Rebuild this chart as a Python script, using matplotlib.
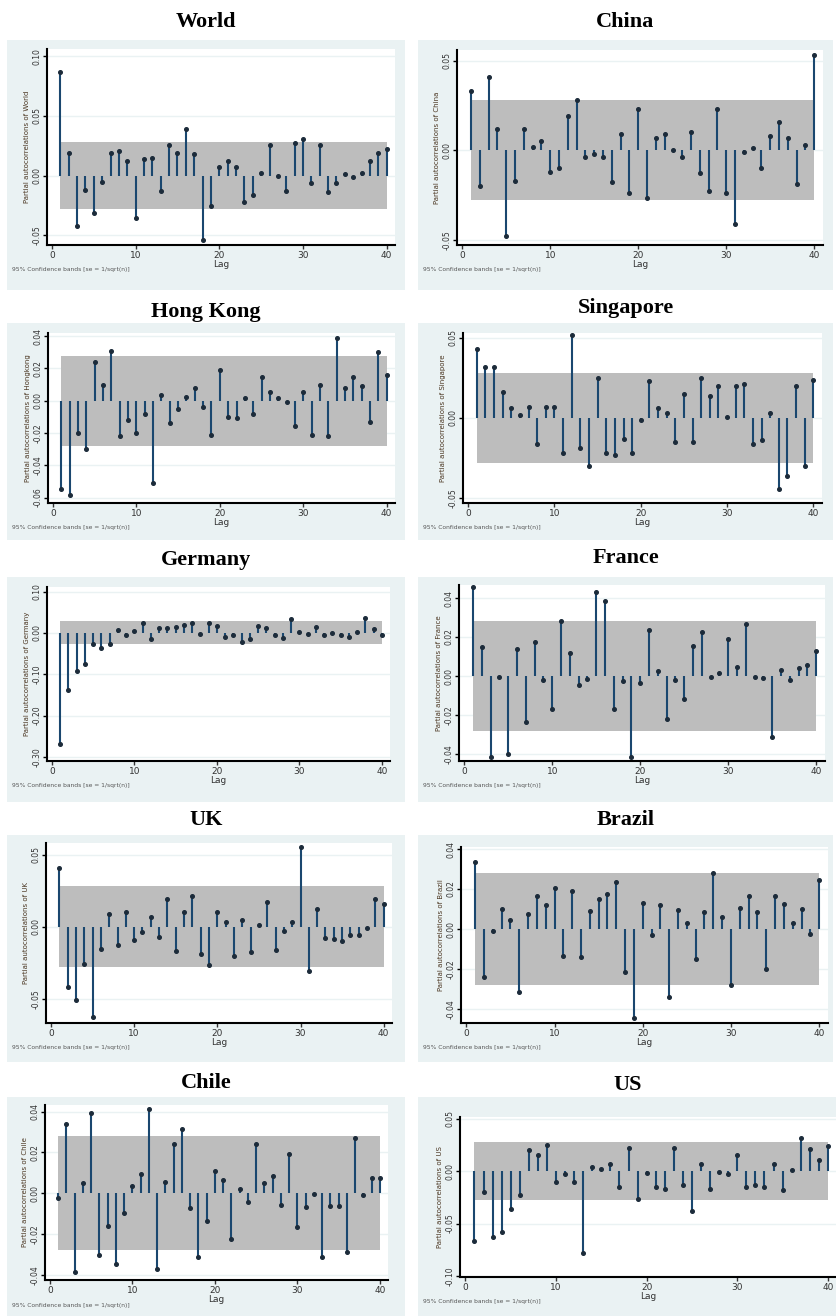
import numpy as np
import matplotlib
matplotlib.use("Agg")
import matplotlib.pyplot as plt
from matplotlib.patches import Rectangle

W, H = 837, 1316

lags = np.arange(1, 41)
ci_band = 0.028

# partial autocorrelations, lags 1..40
world = [0.087, 0.019, -0.042, -0.012, -0.031, -0.005, 0.019, 0.021, 0.012, -0.035,
         0.014, 0.015, -0.013, 0.026, 0.019, 0.039, 0.018, -0.054, -0.025, 0.007,
         0.012, 0.007, -0.022, -0.016, 0.002, 0.026, 0.000, -0.013, 0.027, 0.031,
         -0.006, 0.026, -0.014, -0.006, 0.001, -0.001, 0.002, 0.012, 0.019, 0.022]
china = [0.033, -0.020, 0.041, 0.012, -0.048, -0.017, 0.012, 0.002, 0.005, -0.012,
         -0.010, 0.019, 0.028, -0.004, -0.002, -0.004, -0.018, 0.009, -0.024, 0.023,
         -0.027, 0.007, 0.009, 0.000, -0.004, 0.010, -0.013, -0.023, 0.023, -0.024,
         -0.041, -0.001, 0.001, -0.010, 0.008, 0.016, 0.007, -0.019, 0.003, 0.053]
hong_kong = [-0.0545, -0.0587, -0.020, -0.030, 0.024, 0.010, 0.031, -0.022, -0.012, -0.020,
             -0.0085, -0.051, 0.0035, -0.014, -0.0054, 0.0025, 0.008, -0.004, -0.021, 0.019,
             -0.010, -0.011, 0.002, -0.0085, 0.015, 0.0056, 0.0015, -0.001, -0.0155, 0.0056,
             -0.021, 0.010, -0.022, 0.039, 0.008, 0.015, 0.009, -0.013, 0.0305, 0.016]
singapore = [0.043, 0.0315, 0.0315, 0.016, 0.006, 0.002, 0.007, -0.016, 0.007, 0.007,
             -0.022, 0.052, -0.019, -0.030, 0.025, -0.022, -0.023, -0.013, -0.022, -0.0015,
             0.023, 0.006, 0.003, -0.015, 0.015, -0.015, 0.025, 0.014, 0.020, 0.0006,
             0.020, 0.0215, -0.0165, -0.0135, 0.003, -0.044, -0.036, 0.020, -0.030, 0.024]
germany = [-0.270, -0.138, -0.092, -0.076, -0.026, -0.036, -0.028, 0.008, -0.004, 0.004,
           0.025, -0.015, 0.013, 0.012, 0.0145, 0.020, 0.024, -0.003, 0.025, 0.016,
           -0.010, -0.004, -0.023, -0.014, 0.017, 0.012, -0.004, -0.012, 0.033, 0.001,
           -0.002, 0.0145, -0.0056, 0.000, -0.004, -0.010, 0.0024, 0.036, 0.009, -0.004]
france = [0.0455, 0.0147, -0.0414, -0.0007, -0.0402, 0.0137, -0.0234, 0.0173, -0.002, -0.0171,
          0.0284, 0.012, -0.0046, -0.0015, 0.0432, 0.0386, -0.0171, -0.0024, -0.0417, -0.0034,
          0.0236, 0.0027, -0.022, -0.002, -0.012, 0.0156, 0.0224, -0.0007, 0.0017, 0.019,
          0.0048, 0.0267, -0.0007, -0.0012, -0.0311, 0.0031, -0.002, 0.0039, 0.0056, 0.0128]
uk = [0.0409, -0.0418, -0.0508, -0.0256, -0.0626, -0.0152, 0.009, -0.0127, 0.0104, -0.0088,
      -0.0035, 0.0067, -0.0072, 0.0196, -0.0164, 0.0104, 0.0212, -0.0187, -0.0261, 0.0102,
      0.0035, -0.0199, 0.0044, -0.0173, 0.0016, 0.0173, -0.0157, -0.003, 0.0035, 0.0554,
      -0.0307, 0.0125, -0.0076, -0.0083, -0.0099, -0.0053, -0.0053, -0.0007, 0.0196, 0.0159]
brazil = [0.0337, -0.0238, -0.0008, 0.0098, 0.0045, -0.0313, 0.0073, 0.0167, 0.012, 0.0203,
          -0.0135, 0.0192, -0.0142, 0.0092, 0.015, 0.0175, 0.0233, -0.0213, -0.0447, 0.0132,
          -0.003, 0.012, -0.0338, 0.0095, 0.0028, -0.0152, 0.0087, 0.0282, 0.0058, -0.028,
          0.0107, 0.0167, 0.0087, -0.0202, 0.0167, 0.0125, 0.0032, 0.0098, -0.0027, 0.0245]
chile = [-0.0025, 0.0339, -0.0385, 0.005, 0.0395, -0.0302, -0.0159, -0.0347, -0.0096, 0.0036,
         0.0094, 0.0413, -0.0372, 0.0053, 0.0243, 0.0314, -0.0071, -0.0311, -0.0137, 0.0107,
         0.0066, -0.0225, 0.0023, -0.0043, 0.0243, 0.005, 0.0083, -0.0058, 0.0193, -0.0167,
         -0.0068, -0.0005, -0.0314, -0.0063, -0.0063, -0.0289, 0.0273, -0.001, 0.0073, 0.0073]
us = [-0.0663, -0.0197, -0.0625, -0.0578, -0.0366, -0.0228, 0.0203, 0.0156, 0.025, -0.0103,
      -0.0025, -0.0103, -0.0781, 0.0037, 0.0016, 0.0069, -0.0156, 0.0219, -0.0266, -0.0016,
      -0.0156, -0.0172, 0.0219, -0.0134, -0.0381, 0.0069, -0.0172, -0.0009, -0.0031, 0.0156,
      -0.0147, -0.0134, -0.0147, 0.0063, -0.0181, 0.0009, 0.0313, 0.0209, 0.0103, 0.0244]

names = ["World", "China", "Hong Kong", "Singapore", "Germany",
         "France", "UK", "Brazil", "Chile", "US"]
ylabel_names = ["World", "China", "Hongkong", "Singapore", "Germany",
                "France", "UK", "Brazil", "Chile", "US"]
series = [world, china, hong_kong, singapore, germany, france, uk, brazil, chile, us]
yticks = [[-0.05, 0.0, 0.05, 0.10],
          [-0.05, 0.0, 0.05],
          [-0.06, -0.04, -0.02, 0.0, 0.02, 0.04],
          [-0.05, 0.0, 0.05],
          [-0.30, -0.20, -0.10, 0.0, 0.10],
          [-0.04, -0.02, 0.0, 0.02, 0.04],
          [-0.05, 0.0, 0.05],
          [-0.04, -0.02, 0.0, 0.02, 0.04],
          [-0.04, -0.02, 0.0, 0.02, 0.04],
          [-0.10, -0.05, 0.0, 0.05]]
ylims = [(-0.058, 0.106), (-0.053, 0.056), (-0.0634, 0.042), (-0.053, 0.053),
         (-0.31, 0.111), (-0.0436, 0.0467), (-0.0665, 0.058), (-0.047, 0.041),
         (-0.0426, 0.0433), (-0.101, 0.0516)]

# layout in pixels
# box: (x0, y0, x1, y1), axes: (left, top, right, bottom), title y
boxes = [(7, 40, 405, 290), (418, 40, 833, 290),
         (7, 323, 405, 540), (418, 323, 833, 540),
         (7, 577, 405, 802), (418, 577, 833, 802),
         (7, 835, 405, 1062), (418, 835, 833, 1062),
         (7, 1097, 405, 1316), (418, 1097, 837, 1316)]
axes_px = [(47, 49, 395, 245), (457, 50, 823, 245),
           (48, 333, 395, 503), (463, 333, 822, 503),
           (47, 587, 390, 761), (459, 585, 825, 761),
           (46, 843, 392, 1023), (461, 847, 828, 1023),
           (45, 1105, 388, 1280), (460, 1117, 837, 1277)]
title_y = [22, 22, 312, 308, 560, 558, 820, 820, 1083, 1085]

box_color = "#eaf2f3"
stem_color = "#1a476f"
band_color = "#bdbdbd"

fig = plt.figure(figsize=(W / 100, H / 100), dpi=100)
fig.patch.set_facecolor("white")

for i in range(10):
    bx0, by0, bx1, by1 = boxes[i]
    fig.patches.append(Rectangle((bx0 / W, 1 - by1 / H), (bx1 - bx0) / W, (by1 - by0) / H,
                                 transform=fig.transFigure, facecolor=box_color,
                                 edgecolor="none", zorder=-5))
    fig.text((bx0 + bx1) / 2 / W, 1 - title_y[i] / H, names[i], ha="center", va="center",
             fontsize=16, fontweight="bold", family="Liberation Serif")

    l, t, r, b = axes_px[i]
    ax = fig.add_axes([l / W, 1 - b / H, (r - l) / W, (b - t) / H])
    ax.set_facecolor("white")
    vals = series[i]

    ax.fill_between(lags, -ci_band, ci_band, color=band_color, lw=0, zorder=1)
    for yt in yticks[i]:
        ax.axhline(yt, color=box_color, lw=1.0, zorder=0.5)
    ax.vlines(lags, 0, vals, color=stem_color, lw=1.5, zorder=2)
    ax.plot(lags, vals, "o", color="#1c2b3a", ms=2.6, zorder=3)

    ax.set_xlim(-0.6, 41)
    ax.set_ylim(*ylims[i])
    ax.set_xticks([0, 10, 20, 30, 40])
    ax.set_yticks(yticks[i])
    ax.set_yticklabels(["%.2f" % v for v in yticks[i]], rotation=90, va="center",
                       fontsize=5.5, color="#333333")
    ax.tick_params(axis="x", labelsize=6.5, length=3, width=1, pad=1, colors="#333333")
    ax.tick_params(axis="y", length=3, width=1, pad=1)
    for s in ["top", "right"]:
        ax.spines[s].set_visible(False)
    for s in ["left", "bottom"]:
        ax.spines[s].set_linewidth(1.5)
    ax.set_xlabel("Lag", fontsize=6.5, labelpad=0, color="#333333")
    ax.set_ylabel("Partial autocorrelations of " + ylabel_names[i], fontsize=5,
                  labelpad=2, color="#4a3520")

    fig.text((bx0 + 5) / W, 1 - (b + 25) / H, "95% Confidence bands [se = 1/sqrt(n)]",
             fontsize=4.3, color="#555555", ha="left", va="center")

fig.savefig("out.png", dpi=100, facecolor="white")
